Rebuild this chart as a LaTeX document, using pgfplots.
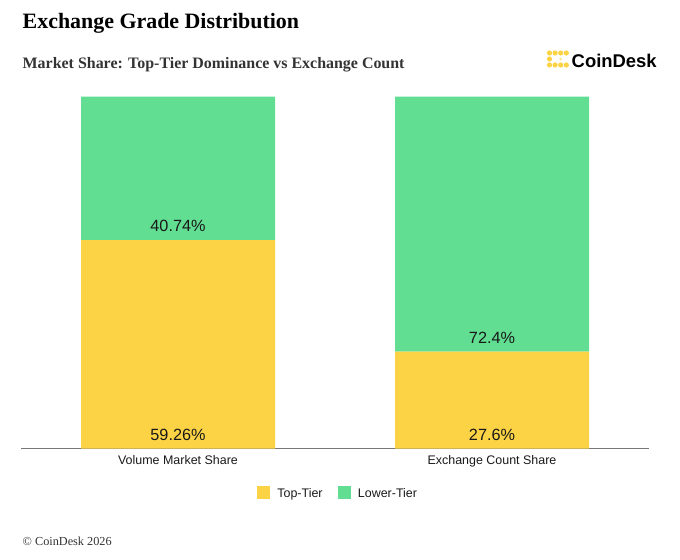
\documentclass[border=0pt]{standalone}
\usepackage{fontspec}
\setmainfont{Liberation Serif}
\newfontfamily\sansf{Liberation Sans}
\usepackage{pgfplots}
\pgfplotsset{compat=1.18}
\definecolor{cdyellow}{RGB}{252,211,69}
\definecolor{cdgreen}{RGB}{97,222,146}
\definecolor{axgray}{RGB}{120,120,120}
\definecolor{subgray}{RGB}{51,51,51}
\definecolor{txt}{RGB}{25,25,25}
\begin{document}
\begin{tikzpicture}
\path[use as bounding box] (0,0) rectangle (680bp,560bp);
\node[anchor=base west, inner sep=0pt, font=\fontsize{22}{26}\selectfont\bfseries, text=black] at (22.5bp,531.7bp) {Exchange Grade Distribution};
\node[anchor=base west, inner sep=0pt, font=\fontsize{16}{19}\selectfont\bfseries, text=subgray] at (22.5bp,491.7bp) {Market Share: Top-Tier Dominance vs Exchange Count};
\node[anchor=base west, inner sep=0pt, font=\fontsize{12.3}{14}\selectfont, text=subgray] at (22.5bp,14.3bp) {© CoinDesk 2026};
% logo
\foreach \cx in {549.5,555.1,560.7,566.3}{
  \fill[cdyellow] (\cx bp,507bp) circle (2.6bp);
  \fill[cdyellow] (\cx bp,495bp) circle (2.6bp);
}
\fill[cdyellow] (549.5bp,501bp) circle (2.6bp);
\fill[cdyellow!55] (560.7bp,501bp) circle (1.6bp);
\node[anchor=base west, inner sep=0pt, font=\sansf\bfseries\fontsize{18.5}{22}\selectfont, text=black] at (571.5bp,492.5bp) {CoinDesk};
\begin{axis}[
  at={(21bp,111.3bp)}, anchor=south west,
  scale only axis, width=628bp, height=352bp,
  ybar stacked, bar width=194bp,
  xmin=-0.5, xmax=1.5, ymin=0, ymax=100,
  axis x line*=bottom, axis y line=none,
  x axis line style={draw=axgray, line width=1.3bp, -},
  xtick={0,1}, xticklabels={Volume Market Share, Exchange Count Share},
  major tick length=0pt,
  xticklabel style={font=\sansf\fontsize{12.5}{14}\selectfont, text=txt, anchor=base, yshift=-16.3bp, inner sep=0pt},
  clip=false,
  legend columns=2,
  legend image code/.code={\fill[#1] (0bp,-5bp) rectangle (13.4bp,8bp);},
  legend style={at={(0.5,0)}, anchor=center, yshift=-44.9bp, xshift=3bp,
    draw=none, fill=none, inner sep=0pt,
    font=\sansf\fontsize{12.5}{14}\selectfont, text=txt,
    /tikz/every odd column/.append style={column sep=5bp},
    /tikz/every even column/.append style={column sep=13bp}},
]
\addplot[fill=cdyellow, draw=none] coordinates {(0,59.26) (1,27.6)};
\addplot[fill=cdgreen, draw=none] coordinates {(0,40.74) (1,72.4)};
\legend{Top-Tier, Lower-Tier}
\coordinate (a0) at (axis cs:0,0);
\coordinate (a1) at (axis cs:0,59.26);
\coordinate (b0) at (axis cs:1,0);
\coordinate (b1) at (axis cs:1,27.6);
\end{axis}
\tikzset{lab/.style={anchor=base, inner sep=0pt, yshift=8.3bp, font=\sansf\fontsize{16.3}{19}\selectfont, text=txt}}
\node[lab] at (a0) {59.26\%};
\node[lab] at (a1) {40.74\%};
\node[lab] at (b0) {27.6\%};
\node[lab] at (b1) {72.4\%};
\end{tikzpicture}
\end{document}
